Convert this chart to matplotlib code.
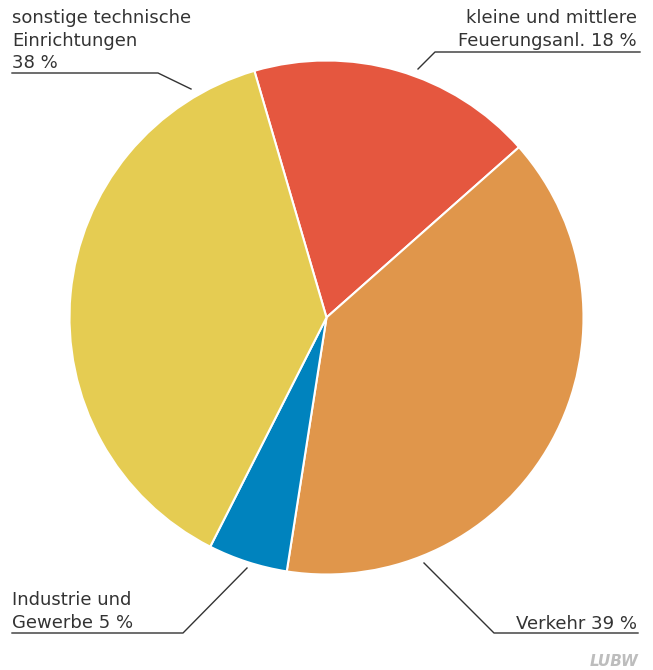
import matplotlib.pyplot as plt

# Data (shares in %)
##################
labels = ['kleine und mittlere\nFeuerungsanl. 18 %', 'Verkehr 39 %',
          'Industrie und\nGewerbe 5 %', 'sonstige technische\nEinrichtungen\n38 %']
shares = [18, 39, 5, 38]
colors = ['#E5573F', '#E0964B', '#0083BE', '#E5CC52']

# Layout in pixel coordinates (y measured from top)
W, H = 653, 670
cx, cy, r = 326.5, 317.5, 257
start_angle = 106.3

fig = plt.figure(figsize=(W / 100, H / 100), dpi=100)
ax = fig.add_axes([0, 0, 1, 1])

ax.pie(shares, colors=colors, startangle=start_angle, counterclock=False,
       center=(cx, H - cy), radius=r,
       wedgeprops=dict(edgecolor='white', linewidth=1.5))
ax.set_xlim(0, W)
ax.set_ylim(0, H)
ax.set_aspect('equal')
ax.axis('off')

txt = dict(fontsize=13, color='#333333', family='DejaVu Sans')
line = dict(color='#333333', linewidth=1.0)


def Y(y):
    return H - y


def put_lines(text, x, y0, ha, step=22.5):
    for i, s in enumerate(text.split('\n')):
        ax.text(x, Y(y0 + i * step), s, ha=ha, va='baseline', **txt)


# sonstige technische Einrichtungen (top left)
put_lines(labels[3], 12, 23, 'left')
ax.plot([12, 158, 191], [Y(73), Y(73), Y(89)], **line)

# kleine und mittlere Feuerungsanl. (top right)
put_lines(labels[0], 637, 23, 'right')
ax.plot([418, 435, 640], [Y(69), Y(52), Y(52)], **line)

# Industrie und Gewerbe (bottom left)
put_lines(labels[2], 12, 605, 'left')
ax.plot([12, 183, 247], [Y(633), Y(633), Y(568)], **line)

# Verkehr (bottom right)
put_lines(labels[1], 637, 629, 'right')
ax.plot([424, 494, 638], [Y(563), Y(633), Y(633)], **line)

# logo
ax.text(639, Y(666), 'LUBW', ha='right', va='baseline', fontsize=11,
        fontweight='bold', style='italic', color='#BDBDBD',
        family='Liberation Sans Narrow')

fig.savefig('out.png', dpi=100)
